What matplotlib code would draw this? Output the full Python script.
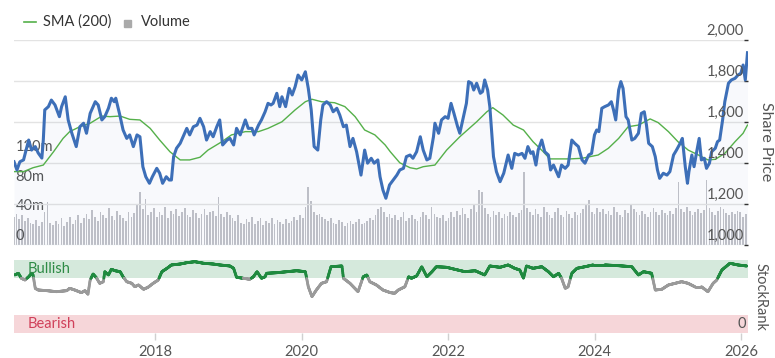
import numpy as np
import matplotlib
matplotlib.use("Agg")
import matplotlib.pyplot as plt
from matplotlib.collections import LineCollection
from matplotlib.lines import Line2D
from matplotlib.patches import Rectangle
import pandas as pd

plt.rcParams['font.family'] = ['Lato', 'DejaVu Sans']

# ---------------- data ----------------
price_years = [
    2016.07, 2016.11, 2016.15, 2016.20, 2016.27, 2016.31, 2016.36, 2016.40, 2016.45, 2016.47,
    2016.49, 2016.54, 2016.58, 2016.63, 2016.69, 2016.72, 2016.77, 2016.81, 2016.86, 2016.92,
    2016.97, 2017.02, 2017.06, 2017.11, 2017.18, 2017.22, 2017.27, 2017.31, 2017.36, 2017.40,
    2017.44, 2017.46, 2017.51, 2017.56, 2017.61, 2017.65, 2017.70, 2017.75, 2017.79, 2017.83,
    2017.87, 2017.92, 2017.96, 2018.02, 2018.06, 2018.10, 2018.15, 2018.19, 2018.22, 2018.25,
    2018.29, 2018.34, 2018.38, 2018.43, 2018.47, 2018.52, 2018.57, 2018.61, 2018.66, 2018.70,
    2018.75, 2018.79, 2018.84, 2018.88, 2018.92, 2018.98, 2019.02, 2019.07, 2019.11, 2019.16,
    2019.23, 2019.27, 2019.32, 2019.35, 2019.41, 2019.45, 2019.50, 2019.54, 2019.58, 2019.61,
    2019.66, 2019.70, 2019.73, 2019.78, 2019.83, 2019.87, 2019.91, 2019.95, 2020.00, 2020.05,
    2020.09, 2020.13, 2020.17, 2020.22, 2020.26, 2020.29, 2020.34, 2020.39, 2020.43, 2020.48,
    2020.52, 2020.57, 2020.61, 2020.66, 2020.70, 2020.75, 2020.81, 2020.86, 2020.90, 2020.95,
    2020.99, 2021.04, 2021.07, 2021.11, 2021.15, 2021.20, 2021.25, 2021.30, 2021.34, 2021.39,
    2021.43, 2021.48, 2021.52, 2021.57, 2021.62, 2021.66, 2021.71, 2021.75, 2021.80, 2021.82,
    2021.87, 2021.91, 2021.96, 2022.00, 2022.04, 2022.08, 2022.13, 2022.16, 2022.21, 2022.25,
    2022.28, 2022.32, 2022.35, 2022.39, 2022.44, 2022.47, 2022.50, 2022.54, 2022.57, 2022.62,
    2022.66, 2022.71, 2022.76, 2022.82, 2022.87, 2022.91, 2022.96, 2023.01, 2023.05, 2023.09,
    2023.13, 2023.16, 2023.20, 2023.23, 2023.28, 2023.32, 2023.37, 2023.40, 2023.44, 2023.47,
    2023.51, 2023.55, 2023.60, 2023.64, 2023.69, 2023.73, 2023.78, 2023.83, 2023.87, 2023.92,
    2023.96, 2024.00, 2024.03, 2024.06, 2024.10, 2024.14, 2024.19, 2024.23, 2024.26, 2024.29,
    2024.33, 2024.36, 2024.39, 2024.43, 2024.46, 2024.51, 2024.55, 2024.60, 2024.64, 2024.68,
    2024.71, 2024.74, 2024.79, 2024.83, 2024.86, 2024.89, 2024.94, 2024.99, 2025.03, 2025.08,
    2025.12, 2025.17, 2025.20, 2025.24, 2025.27, 2025.29, 2025.33, 2025.36, 2025.40, 2025.43,
    2025.46, 2025.50, 2025.53, 2025.57, 2025.60, 2025.65, 2025.68, 2025.71, 2025.75, 2025.78,
    2025.83, 2025.87, 2025.92, 2025.96, 2026.00, 2026.03, 2026.06, 2026.09,
]
price_vals = [
    1406, 1366, 1406, 1415, 1512, 1463, 1480, 1449, 1424, 1512,
    1659, 1675, 1707, 1683, 1626, 1675, 1723, 1610, 1545, 1480,
    1577, 1594, 1545, 1642, 1699, 1683, 1610, 1626, 1667, 1716,
    1699, 1716, 1642, 1561, 1520, 1537, 1480, 1537, 1528, 1382,
    1333, 1301, 1333, 1374, 1350, 1301, 1333, 1317, 1317, 1431,
    1472, 1496, 1528, 1569, 1537, 1577, 1585, 1618, 1577, 1512,
    1553, 1528, 1577, 1610, 1488, 1512, 1520, 1488, 1569, 1537,
    1610, 1569, 1569, 1537, 1585, 1610, 1650, 1691, 1683, 1691,
    1740, 1675, 1723, 1675, 1764, 1732, 1772, 1829, 1805, 1845,
    1764, 1659, 1480, 1463, 1610, 1683, 1699, 1683, 1650, 1667,
    1634, 1577, 1585, 1480, 1520, 1455, 1341, 1463, 1399, 1423,
    1399, 1415, 1333, 1268, 1228, 1293, 1317, 1341, 1366, 1374,
    1431, 1439, 1423, 1455, 1528, 1463, 1415, 1423, 1528, 1594,
    1545, 1610, 1626, 1618, 1691, 1642, 1577, 1545, 1626, 1691,
    1797, 1789, 1756, 1789, 1740, 1748, 1805, 1756, 1675, 1431,
    1358, 1309, 1350, 1439, 1374, 1447, 1439, 1447, 1423, 1480,
    1447, 1455, 1390, 1463, 1512, 1455, 1439, 1366, 1390, 1366,
    1333, 1390, 1374, 1390, 1512, 1496, 1480, 1415, 1399, 1439,
    1447, 1537, 1561, 1553, 1667, 1675, 1683, 1699, 1659, 1610,
    1756, 1797, 1764, 1626, 1610, 1512, 1520, 1545, 1642, 1650,
    1585, 1496, 1480, 1431, 1366, 1325, 1350, 1341, 1358, 1439,
    1463, 1496, 1520, 1382, 1301, 1358, 1439, 1382, 1463, 1520,
    1415, 1423, 1374, 1399, 1455, 1472, 1504, 1512, 1610, 1699,
    1789, 1805, 1813, 1829, 1838, 1878, 1805, 1938,
]

sma_years = [
    2016.07, 2016.20, 2016.33, 2016.47, 2016.61, 2016.74, 2016.83, 2016.97, 2017.11, 2017.27,
    2017.38, 2017.52, 2017.65, 2017.79, 2017.93, 2018.06, 2018.20, 2018.34, 2018.47, 2018.61,
    2018.72, 2018.91, 2019.04, 2019.23, 2019.41, 2019.54, 2019.73, 2019.91, 2020.05, 2020.14,
    2020.27, 2020.45, 2020.59, 2020.73, 2020.86, 2021.00, 2021.14, 2021.21, 2021.34, 2021.48,
    2021.57, 2021.66, 2021.82, 2021.98, 2022.16, 2022.39, 2022.53, 2022.61, 2022.75, 2022.89,
    2023.03, 2023.16, 2023.30, 2023.39, 2023.53, 2023.67, 2023.83, 2024.05, 2024.19, 2024.33,
    2024.46, 2024.60, 2024.76, 2024.87, 2025.01, 2025.14, 2025.28, 2025.42, 2025.55, 2025.65,
    2025.78, 2025.92, 2026.03, 2026.09,
]
sma_vals = [
    1358, 1358, 1377, 1390, 1455, 1520, 1553, 1577, 1594, 1629,
    1626, 1629, 1613, 1610, 1569, 1512, 1455, 1415, 1415, 1428,
    1463, 1504, 1537, 1553, 1553, 1569, 1601, 1659, 1699, 1711,
    1699, 1694, 1675, 1626, 1561, 1537, 1488, 1455, 1401, 1377,
    1371, 1382, 1390, 1463, 1528, 1601, 1650, 1670, 1634, 1585,
    1561, 1504, 1455, 1420, 1420, 1420, 1423, 1439, 1472, 1520,
    1577, 1585, 1615, 1597, 1553, 1504, 1463, 1439, 1415, 1418,
    1447, 1504, 1545, 1585,
]

rank_years = [
    2016.08, 2016.13, 2016.17, 2016.22, 2016.27, 2016.31, 2016.33, 2016.36, 2016.40, 2016.52,
    2016.65, 2016.79, 2016.83, 2016.90, 2016.99, 2017.04, 2017.08, 2017.11, 2017.15, 2017.20,
    2017.24, 2017.29, 2017.31, 2017.36, 2017.40, 2017.45, 2017.52, 2017.56, 2017.61, 2017.68,
    2017.72, 2017.77, 2017.84, 2017.90, 2017.97, 2018.04, 2018.09, 2018.16, 2018.22, 2018.34,
    2018.43, 2018.54, 2018.66, 2018.79, 2018.88, 2019.02, 2019.07, 2019.11, 2019.20, 2019.29,
    2019.34, 2019.39, 2019.45, 2019.50, 2019.52, 2019.66, 2019.80, 2019.93, 2020.05, 2020.09,
    2020.14, 2020.20, 2020.27, 2020.34, 2020.40, 2020.55, 2020.57, 2020.66, 2020.77, 2020.84,
    2020.89, 2020.93, 2021.02, 2021.11, 2021.21, 2021.27, 2021.32, 2021.41, 2021.46, 2021.50,
    2021.57, 2021.64, 2021.71, 2021.78, 2021.84, 2021.98, 2022.09, 2022.23, 2022.37, 2022.50,
    2022.57, 2022.71, 2022.82, 2022.91, 2022.98, 2023.03, 2023.07, 2023.16, 2023.28, 2023.37,
    2023.44, 2023.51, 2023.55, 2023.60, 2023.64, 2023.69, 2023.76, 2023.87, 2023.98, 2024.14,
    2024.33, 2024.51, 2024.60, 2024.67, 2024.78, 2024.83, 2024.92, 2025.01, 2025.10, 2025.19,
    2025.28, 2025.37, 2025.46, 2025.55, 2025.62, 2025.67, 2025.74, 2025.85, 2025.96, 2026.08,
]
rank_vals = [
    79.5, 81.8, 75.0, 72.6, 77.0, 81.8, 79.5, 61.2, 58.9, 58.0,
    56.6, 58.0, 61.2, 58.9, 55.3, 58.0, 53.0, 72.6, 80.8, 75.0,
    68.0, 70.3, 84.0, 79.5, 87.3, 85.3, 84.0, 77.0, 70.3, 68.0,
    63.4, 65.8, 59.9, 62.6, 68.0, 72.6, 84.0, 88.6, 93.2, 94.5,
    96.3, 97.7, 95.5, 94.5, 93.2, 91.8, 88.6, 76.3, 75.0, 73.6,
    77.0, 84.0, 75.0, 77.0, 81.8, 82.6, 84.0, 85.3, 84.0, 63.4,
    49.7, 58.9, 68.0, 70.3, 90.8, 91.8, 75.0, 68.0, 56.6, 77.0,
    79.5, 70.3, 65.8, 58.9, 55.3, 54.4, 58.9, 63.4, 77.0, 75.0,
    78.1, 90.8, 77.0, 84.0, 90.8, 90.0, 87.3, 84.0, 85.3, 79.5,
    91.8, 90.0, 93.2, 88.6, 86.3, 75.0, 91.8, 88.6, 90.8, 84.0,
    77.0, 81.8, 75.0, 61.2, 63.4, 81.8, 88.6, 90.8, 93.2, 93.2,
    92.2, 90.8, 79.5, 84.0, 81.8, 58.9, 59.9, 65.8, 68.0, 70.3,
    68.0, 63.4, 63.4, 56.6, 68.0, 72.6, 86.3, 95.5, 93.2, 91.8,
]

# volume in millions, one bar per fortnight starting late Jan 2016
volume_m = [
    38, 42, 35, 40, 33, 36, 30, 28, 34, 26, 31, 45, 58, 30, 27, 33, 29, 36, 25, 31, 38, 28, 34, 40, 30, 37,
    42, 35, 47, 38, 33, 44, 40, 36, 50, 39, 34, 46, 41, 37, 32, 45, 38, 43, 55, 72, 48, 62, 40, 45, 50, 38,
    44, 40, 52, 37, 46, 42, 48, 39, 45, 50, 41, 38, 47, 43, 36, 42, 49, 40, 44, 46, 39, 65, 42, 38, 45, 41,
    36, 33, 40, 30, 28, 35, 31, 38, 29, 33, 37, 27, 32, 30, 36, 28, 34, 31, 29, 35, 30, 33, 38, 34, 40, 36,
    52, 78, 60, 45, 40, 42, 38, 35, 33, 37, 30, 28, 34, 31, 26, 30, 33, 29, 31, 35, 28, 30, 33, 36, 34, 40,
    48, 52, 45, 38, 42, 36, 40, 34, 38, 44, 33, 36, 41, 35, 32, 38, 45, 40, 35, 52, 42, 38, 36, 40, 33, 37,
    44, 38, 46, 40, 50, 42, 36, 48, 55, 45, 74, 72, 50, 42, 38, 46, 40, 44, 36, 42, 39, 45, 41, 38, 43, 47,
    99, 50, 45, 40, 48, 42, 38, 52, 45, 40, 36, 44, 50, 41, 38, 46, 42, 37, 45, 40, 43, 48, 55, 61, 45, 42,
    50, 44, 48, 42, 46, 40, 52, 45, 41, 38, 47, 43, 55, 49, 44, 40, 46, 42, 38, 45, 50, 44, 41, 47, 43, 40,
    46, 42, 50, 85, 48, 44, 52, 46, 40, 45, 49, 43, 47, 88, 50, 44, 41, 46, 52, 48, 43, 40, 45, 42, 46, 44,
    38, 42,
]
vol_dates = pd.date_range("2016-01-25", periods=len(volume_m), freq="14D")
vol_years = (vol_dates.year + (vol_dates.dayofyear - 1) / 365.25).to_numpy()

year_ticks = [2018, 2020, 2022, 2024, 2026]
price_ticks = [1000, 1200, 1400, 1600, 1800, 2000]
volume_ticks_m = [0, 40, 80, 120]
volume_tick_labels = ["0", "40m", "80m", "120m"]

# ---------------- layout ----------------
W, H = 775, 358
fig = plt.figure(figsize=(W / 100, H / 100), dpi=100)
fig.patch.set_facecolor("white")

def fx(px):
    return px / W

def fy(py):
    return 1 - py / H

X0, X1 = 14, 748
XMIN = 2018 + (X0 - 155.3) / 73.2
XMAX = 2018 + (X1 - 155.3) / 73.2

TXT = "#555555"
GRID = "#e3e3e3"

# volume axes (primary, drawn first)
axv = fig.add_axes([fx(X0), fy(245), fx(X1 - X0), (245 - 40) / H])
axv.set_xlim(XMIN, XMAX)
axv.set_ylim(0, 277)
axv.bar(vol_years, volume_m, width=0.024, color="#c2c3c8", linewidth=0, zorder=1)
for s in axv.spines.values():
    s.set_visible(False)
axv.set_xticks([])
axv.set_yticks([])
axv.patch.set_alpha(0)

# price axes on top
axp = axv.twinx()
axp.set_xlim(XMIN, XMAX)
axp.set_ylim(1000, 2000)
for s in axp.spines.values():
    s.set_visible(False)
axp.set_yticks(price_ticks)
axp.set_yticklabels([])
axp.tick_params(axis="y", right=True, left=False, direction="in", length=3,
                color="#333333", width=1)
axp.set_xticks([])
for t in price_ticks:
    axp.axhline(t, color=GRID, lw=1, zorder=0)
axp.fill_between(price_years, price_vals, 1000, color="#3a6db5", alpha=0.035,
                 linewidth=0, zorder=1)
axp.plot(sma_years, sma_vals, color="#55b04a", lw=1.0, zorder=2)
axp.plot(price_years, price_vals, color="#3d6fb8", lw=2.2, zorder=3,
         solid_joinstyle="round")

# price labels (inside, right)
for t in price_ticks:
    axp.annotate(f"{t:,}", xy=(1.0, t), xycoords=("axes fraction", "data"),
                 xytext=(-3, 1.5), textcoords="offset points",
                 ha="right", va="bottom", fontsize=10.5, color=TXT)
# volume labels (inside, left)
for v, lab in zip(volume_ticks_m, volume_tick_labels):
    axv.annotate(lab, xy=(0.0, v), xycoords=("axes fraction", "data"),
                 xytext=(1, 1.5), textcoords="offset points",
                 ha="left", va="bottom", fontsize=10.5, color=TXT)

fig.text(fx(766), fy(142), "Share Price", rotation=270, ha="center", va="center",
         fontsize=11.5, color=TXT)

# legend
fig.add_artist(Line2D([fx(24), fx(36)], [fy(22), fy(22)], color="#55b04a", lw=1.2,
                      transform=fig.transFigure))
fig.text(fx(43), fy(22), "SMA (200)", ha="left", va="center", fontsize=10.5, color="#333333")
fig.add_artist(Rectangle((fx(124), fy(27)), fx(7), 7 / H, color="#aaaaaa",
                         transform=fig.transFigure))
fig.text(fx(141), fy(22), "Volume", ha="left", va="center", fontsize=10.5, color="#333333")

# ---------------- StockRank panel ----------------
axr = fig.add_axes([fx(X0), fy(333), fx(X1 - X0), (333 - 260) / H])
axr.set_xlim(XMIN, XMAX)
axr.set_ylim(0, 100)
axr.axhspan(75, 100, color="#d5e9dc", lw=0, zorder=0)
axr.axhspan(0, 25, color="#f6d6d9", lw=0, zorder=0)
for s in axr.spines.values():
    s.set_visible(False)
axr.set_yticks([])
axr.set_xticks(year_ticks)
axr.set_xticklabels([str(y) for y in year_ticks])
axr.tick_params(axis="x", length=5, width=1, color="#d0d0d0", pad=4,
                labelsize=10.5, labelcolor=TXT)

fine_x = np.linspace(rank_years[0], rank_years[-1], 3000)
fine_y = np.interp(fine_x, rank_years, rank_vals)
pts = np.column_stack([fine_x, fine_y]).reshape(-1, 1, 2)
segs = np.concatenate([pts[:-1], pts[1:]], axis=1)
mid = (fine_y[:-1] + fine_y[1:]) / 2
cols = np.where(mid >= 75, "#1f8a3f", "#9a9a9a")
lc = LineCollection(segs, colors=cols, linewidths=2.0, zorder=2, capstyle="round")
axr.add_collection(lc)

axr.text(0.018, 87.5, "Bullish", transform=axr.get_yaxis_transform(), ha="left",
         va="center", fontsize=10.5, color="#2e8b46")
axr.text(0.018, 12.5, "Bearish", transform=axr.get_yaxis_transform(), ha="left",
         va="center", fontsize=10.5, color="#d0405a")
axr.text(0.997, 12.5, "0", transform=axr.get_yaxis_transform(), ha="right",
         va="center", fontsize=10.5, color=TXT)
fig.text(fx(761), fy(297), "StockRank", rotation=270, ha="center", va="center",
         fontsize=10.5, color=TXT)

fig.savefig("out.png", dpi=100, facecolor="white")
